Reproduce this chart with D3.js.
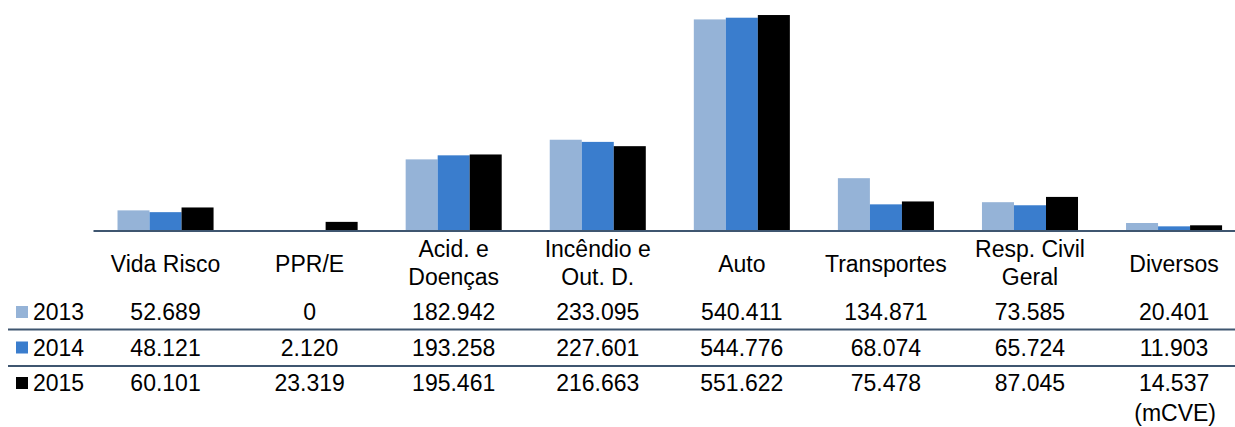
<!DOCTYPE html>
<html><head><meta charset="utf-8">
<script src="https://cdn.jsdelivr.net/npm/d3@7"></script>
<style>
html,body{margin:0;padding:0;background:#fff;overflow:hidden}
text{font-family:"Liberation Sans",Arial,sans-serif;fill:#000}
</style></head>
<body><svg id="c" width="1235" height="427"></svg>
<script>
const categories = [["Vida Risco"],["PPR/E"],["Acid. e","Doenças"],["Incêndio e","Out. D."],["Auto"],["Transportes"],["Resp. Civil","Geral"],["Diversos"]];
const years = ["2013","2014","2015"];
const values2013 = [52689, 0, 182942, 233095, 540411, 134871, 73585, 20401];
const values2014 = [48121, 2120, 193258, 227601, 544776, 68074, 65724, 11903];
const values2015 = [60101, 23319, 195461, 216663, 551622, 75478, 87045, 14537];
const unitLabel = "(mCVE)";

const series = [values2013, values2014, values2015];
const colors = ["#95B3D7", "#3A7DCD", "#000000"];
const lineColor = "#3F5670";
const fs = 23;

const svg = d3.select("#c");
const catKeys = categories.map(c => c.join(" "));
const x = d3.scaleBand().domain(catKeys).range([93.5, 1246.1]).padding(0);
const xs = d3.scaleBand().domain(years).range([0, x.bandwidth()]).paddingInner(0).paddingOuter(0.75);
const y = d3.scaleLinear().domain([0, 590000]).range([231, 0]);
const fmt = d3.formatLocale({decimal: ",", thousands: ".", grouping: [3], currency: ["", ""]}).format(",d");

// bars
years.forEach((yr, si) => {
  svg.append("g").selectAll("rect").data(series[si]).join("rect")
    .attr("x", (d, i) => x(catKeys[i]) + xs(yr))
    .attr("width", xs.bandwidth())
    .attr("y", d => y(d))
    .attr("height", d => y(0) - y(d))
    .attr("fill", colors[si]);
});

// axis baseline
svg.append("line").attr("x1", 93.5).attr("x2", 1235).attr("y1", y(0)).attr("y2", y(0))
  .attr("stroke", lineColor).attr("stroke-width", 2);

// category labels
const catG = svg.append("g");
categories.forEach((lines, i) => {
  const cx = x(catKeys[i]) + x.bandwidth() / 2;
  const baselines = lines.length === 1 ? [272] : [257, 284.5];
  lines.forEach((t, j) => {
    catG.append("text").attr("x", cx).attr("y", baselines[j])
      .attr("text-anchor", "middle").attr("font-size", fs).text(t);
  });
});

// table rows
const rowBase = [320, 355.5, 391];
years.forEach((yr, si) => {
  const g = svg.append("g");
  g.append("rect").attr("x", 16).attr("y", rowBase[si] - 14).attr("width", 12).attr("height", 12).attr("fill", colors[si]);
  g.append("text").attr("x", 33).attr("y", rowBase[si]).attr("font-size", fs).text(yr);
  series[si].forEach((v, i) => {
    g.append("text").attr("x", x(catKeys[i]) + x.bandwidth() / 2).attr("y", rowBase[si])
      .attr("text-anchor", "middle").attr("font-size", fs).text(fmt(v));
  });
});

// row separators
[329.5, 366].forEach(yy => {
  svg.append("line").attr("x1", 8).attr("x2", 1235).attr("y1", yy).attr("y2", yy)
    .attr("stroke", lineColor).attr("stroke-width", 2);
});

svg.append("text").attr("x", 1216).attr("y", 421).attr("text-anchor", "end").attr("font-size", fs).text(unitLabel);
</script>
</body></html>
